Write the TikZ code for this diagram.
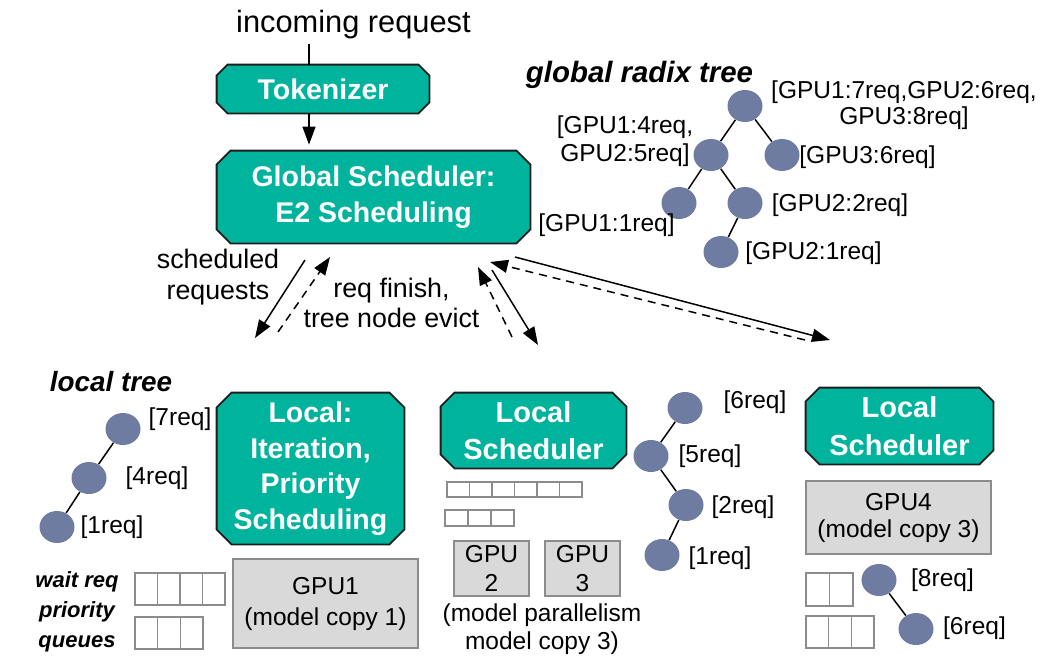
\documentclass[tikz,border=0pt]{standalone}
\usepackage{fontspec}
\setmainfont{Liberation Sans}
\usetikzlibrary{arrows.meta,shapes.geometric,backgrounds}
\definecolor{tealbox}{RGB}{0,179,156}
\definecolor{boxline}{RGB}{30,30,30}
\definecolor{slate}{RGB}{110,124,161}
\definecolor{gpufill}{RGB}{217,217,217}
\definecolor{gpuline}{RGB}{140,140,140}
\newcommand\chbox[2]{%
  \draw[fill=tealbox,draw=boxline,line width=0.9pt]
    ([xshift=#2]#1.north west) -- ([xshift=-#2]#1.north east) --
    ([yshift=-#2]#1.north east) -- ([yshift=#2]#1.south east) --
    ([xshift=-#2]#1.south east) -- ([xshift=#2]#1.south west) --
    ([yshift=#2]#1.south west) -- ([yshift=-#2]#1.north west) -- cycle;}
\begin{document}
\begin{tikzpicture}[x=0.5pt,y=-0.5pt,
  box/.style={inner sep=0pt, text=white, align=center,
    font=\fontsize{14.25}{17.75}\selectfont\bfseries},
  box2/.style={box, font=\fontsize{14.5}{18.75}\selectfont\bfseries},
  gpu/.style={draw=gpuline, fill=gpufill, line width=0.75pt, inner sep=0pt,
    align=center, font=\fontsize{12.25}{14.5}\selectfont},
  tn/.style={ellipse, fill=slate, minimum width=17.5pt, minimum height=16pt, inner sep=0pt},
  lab/.style={inner sep=0pt, align=center, font=\fontsize{12.25}{14}\selectfont},
  ttl/.style={inner sep=0pt, align=center, font=\fontsize{14.7}{17}\selectfont\bfseries\itshape},
  edge/.style={line width=0.75pt},
  arr/.style={line width=0.75pt, -{Triangle[length=9pt,width=6.5pt]}},
  darr/.style={arr, dash pattern=on 4pt off 3pt},
  cell/.style={draw=gpuline, fill=white, line width=0.75pt}
]
\useasboundingbox (0,0) rectangle (1044,659);

% ---- top: incoming request, tokenizer, global scheduler
\node[inner sep=2pt, font=\fontsize{15.4}{18}\selectfont] (inc) at (353.5,25) {incoming request};
\coordinate (lx) at (309,0);
\node[box, minimum width=106pt, minimum height=24pt] (tok) at (323,89) {Tokenizer};
\node[box, minimum width=156.5pt, minimum height=46pt] (glob) at (373.5,197) {Global Scheduler:\\E2 Scheduling};
\draw[edge] (inc.south -| lx) -- (tok.north -| lx);
\draw[arr, shorten >=3pt] (tok.south -| lx) -- (glob.north -| lx);

% ---- local schedulers
\node[box, minimum width=93.5pt, minimum height=75.5pt] (loc1) at (310.5,468.5) {Local:\\Iteration,\\Priority\\Scheduling};
\node[box2, minimum width=92.5pt, minimum height=37.5pt] (loc2) at (533.5,430.5) {Local\\Scheduler};
\node[box2, minimum width=93.5pt, minimum height=38pt] (loc3) at (899.5,426) {Local\\Scheduler};

\begin{scope}[on background layer]
  \chbox{tok}{5.5pt}
  \chbox{glob}{7pt}
  \chbox{loc1}{7.5pt}
  \chbox{loc2}{7pt}
  \chbox{loc3}{7pt}
\end{scope}

% ---- GPUs
\node[gpu, minimum width=92.5pt, minimum height=44.5pt, font=\fontsize{12.25}{15.5}\selectfont] (gpu1) at (325.5,603.5) {GPU1\\(model copy 1)};
\node[gpu, minimum width=37.5pt, minimum height=27.5pt] (gpu2) at (491.5,568.5) {GPU\\2};
\node[gpu, minimum width=37.5pt, minimum height=27.5pt] (gpu3) at (582.5,568.5) {GPU\\3};
\node[lab] (mp) at (542,629) {(model parallelism\\model copy 3)};
\node[gpu, minimum width=92.5pt, minimum height=36.5pt, font=\fontsize{12.25}{13.5}\selectfont] (gpu4) at (898.5,517.5) {GPU4\\(model copy 3)};

% ---- arrows between global and local
\node[lab, font=\fontsize{13.4}{15.5}\selectfont] (schd) at (218,277) {scheduled\\requests};
\node[lab, font=\fontsize{13.4}{15}\selectfont] (fin) at (391.5,303) {req finish,\\tree node evict};
\coordinate (a1s) at (305,260); \coordinate (a1e) at (255,338);
\coordinate (a2s) at (278,332); \coordinate (a2e) at (330,257);
\coordinate (a3s) at (512,337); \coordinate (a3e) at (478,267);
\coordinate (a4s) at (492,270); \coordinate (a4e) at (538,345);
\coordinate (a5s) at (515,257); \coordinate (a5e) at (830,340);
\coordinate (a6s) at (805,340); \coordinate (a6e) at (490,262);
\draw[arr] (a1s) -- (a1e);
\draw[darr] (a2s) -- (a2e);
\draw[darr] (a3s) -- (a3e);
\draw[arr] (a4s) -- (a4e);
\draw[arr] (a5s) -- (a5e);
\draw[darr] (a6s) -- (a6e);

% ---- global radix tree
\node[ttl] (gtitle) at (639.5,75) {global radix tree};
\node[tn] (r) at (745,106) {};
\node[tn] (ga) at (711,155) {};
\node[tn] (gb) at (782,155) {};
\node[tn] (gc) at (679,203) {};
\node[tn] (gd) at (745,203) {};
\node[tn] (ge) at (721,252) {};
\draw[edge] (r) -- (ga); \draw[edge] (r) -- (gb);
\draw[edge] (ga) -- (gc); \draw[edge] (ga) -- (gd);
\draw[edge] (gd) -- (ge);
\node[lab, font=\fontsize{12.25}{13}\selectfont] (lr) at (904,105) {[GPU1:7req,GPU2:6req,\\GPU3:8req]};
\node[lab] (lb) at (867.5,157) {[GPU3:6req]};
\node[lab] (la) at (625,141) {[GPU1:4req,\\GPU2:5req]};
\node[lab] (lc) at (606.5,225) {[GPU1:1req]};
\node[lab] (ld) at (840,205) {[GPU2:2req]};
\node[lab] (le) at (813.5,253) {[GPU2:1req]};

% ---- local tree (left)
\node[ttl, font=\fontsize{13.9}{16}\selectfont\bfseries\itshape] (ltitle) at (111,382) {local tree};
\node[tn] (n1) at (123,429) {};
\node[tn] (n2) at (89,478) {};
\node[tn] (n3) at (57,527) {};
\draw[edge] (n1) -- (n2); \draw[edge] (n2) -- (n3);
\node[lab] (ln1) at (180,419) {[7req]};
\node[lab] (ln2) at (157,478) {[4req]};
\node[lab] (ln3) at (112,527) {[1req]};
\node[ttl, font=\fontsize{11}{15}\selectfont\bfseries\itshape] (wq) at (77,612) {wait req\\priority\\queues};
\foreach \i in {0,...,3} \draw[cell] (135+\i*22.5,573) rectangle ++(22.5,32);
\foreach \i in {0,...,2} \draw[cell] (135+\i*22.7,617) rectangle ++(22.7,32);

% ---- middle tree
\node[tn] (m1) at (685,408) {};
\node[tn] (m2) at (651,456) {};
\node[tn] (m3) at (686,505) {};
\node[tn] (m4) at (662,555) {};
\draw[edge] (m1) -- (m2); \draw[edge] (m2) -- (m3); \draw[edge] (m3) -- (m4);
\node[lab] (lm1) at (755,402) {[6req]};
\node[lab] (lm2) at (710,456) {[5req]};
\node[lab] (lm3) at (743,507) {[2req]};
\node[lab] (lm4) at (720,558) {[1req]};
\foreach \i in {0,...,5} \draw[cell] (447+\i*22.5,482) rectangle ++(22.5,15);
\foreach \i in {0,...,2} \draw[cell] (445+\i*23,510) rectangle ++(23,16);

% ---- right tree
\node[tn] (q1) at (879,580) {};
\node[tn] (q2) at (916,629) {};
\draw[edge] (q1) -- (q2);
\node[lab] (lq1) at (942.5,580) {[8req]};
\node[lab] (lq2) at (974.5,628) {[6req]};
\foreach \i in {0,...,1} \draw[cell] (806+\i*23.5,573) rectangle ++(23.5,33);
\foreach \i in {0,...,2} \draw[cell] (806+\i*22.7,616) rectangle ++(22.7,32);
\end{tikzpicture}
\end{document}
